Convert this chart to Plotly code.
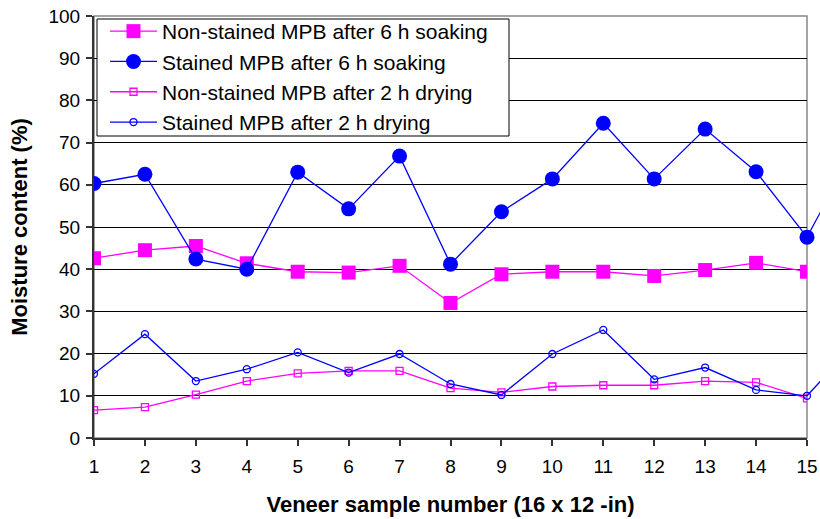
import plotly.graph_objects as go

samples = list(range(1, 16))
samples_ext = list(range(1, 17))

nonstained_soak = [42.6, 44.5, 45.5, 41.4, 39.4, 39.2, 40.8, 32.0, 38.8, 39.4, 39.4, 38.4, 39.8, 41.5, 39.4]
stained_soak = [60.3, 62.5, 42.4, 40.0, 63.0, 54.3, 66.8, 41.2, 53.6, 61.4, 74.6, 61.4, 73.2, 63.1, 47.6, 70.0]
nonstained_dry = [6.6, 7.3, 10.3, 13.5, 15.3, 15.9, 15.9, 11.8, 10.8, 12.2, 12.5, 12.5, 13.5, 13.2, 9.4]
stained_dry = [15.2, 24.6, 13.5, 16.3, 20.3, 15.5, 19.9, 12.8, 10.2, 19.9, 25.6, 13.9, 16.7, 11.4, 10.0, 23.0]

names = [
    "Non-stained MPB after 6 h soaking",
    "Stained MPB after 6 h soaking",
    "Non-stained MPB after 2 h drying",
    "Stained MPB after 2 h drying",
]

MAGENTA = "#FF00FF"
BLUE = "#0000FF"
FONT = "Liberation Sans, Arial, sans-serif"

W, H = 820, 519
ML, MR, MT, MB = 94, 0, 16, 81
plot_w = W - ML - MR
plot_h = H - MT - MB
main_frac = 713 / plot_w


def px(x):  # window pixel -> paper x
    return (x - ML) / plot_w


def py(y):  # window pixel -> paper y
    return 1 - (y - MT) / plot_h


fig = go.Figure()
fig.add_trace(go.Scatter(
    x=samples, y=nonstained_soak, name=names[0], mode="lines+markers",
    line=dict(color=MAGENTA, width=1.3),
    marker=dict(symbol="square", size=14, color=MAGENTA),
    legendgroup="a", xaxis="x", yaxis="y"))
fig.add_trace(go.Scatter(
    x=samples_ext, y=stained_soak, name=names[1], mode="lines+markers",
    line=dict(color=BLUE, width=1.3),
    marker=dict(symbol="circle", size=15, color=BLUE),
    legendgroup="b", xaxis="x2", yaxis="y2"))
fig.add_trace(go.Scatter(
    x=samples, y=nonstained_dry, name=names[2], mode="lines+markers",
    line=dict(color=MAGENTA, width=1.3),
    marker=dict(symbol="square-open", size=7, color=MAGENTA, line=dict(width=1.3)),
    legendgroup="c", xaxis="x", yaxis="y"))
fig.add_trace(go.Scatter(
    x=samples_ext, y=stained_dry, name=names[3], mode="lines+markers",
    line=dict(color=BLUE, width=1.3),
    marker=dict(symbol="circle-open", size=7, color=BLUE, line=dict(width=1.3)),
    legendgroup="d", xaxis="x2", yaxis="y2"))

fig.update_layout(
    width=W, height=H,
    margin=dict(l=ML, r=MR, t=MT, b=MB, autoexpand=False),
    paper_bgcolor="white", plot_bgcolor="rgba(0,0,0,0)",
    font=dict(family=FONT, color="black", size=19),
    showlegend=True,
    legend=dict(
        x=px(105), y=py(11), xanchor="left", yanchor="top",
        bgcolor="rgba(0,0,0,0)", borderwidth=0,
        font=dict(size=21, family=FONT), tracegroupgap=0,
        itemwidth=47, traceorder="grouped",
    ),
    xaxis=dict(
        domain=[0, main_frac], range=[1, 15], tickmode="array",
        tickvals=samples, ticktext=[str(s) for s in samples],
        showgrid=False, zeroline=False,
        showline=True, linecolor="#333333", linewidth=2,
        ticks="outside", ticklen=6, tickcolor="#333333", tickwidth=1.5,
        ticklabelstandoff=4, ticklabeloverflow="allow",
        tickfont=dict(size=19, family=FONT),
        title=dict(text="<b>Veneer sample number (16 x 12 -in)</b>",
                   font=dict(size=22, family=FONT), standoff=21),
        anchor="y", automargin=False,
    ),
    yaxis=dict(
        range=[0, 100], dtick=10, tick0=0,
        showgrid=True, gridcolor="black", gridwidth=1,
        zeroline=False,
        showline=True, linecolor="#333333", linewidth=2,
        ticks="outside", ticklen=6, tickcolor="#333333", tickwidth=1.5,
        ticklabelstandoff=2, ticklabeloverflow="allow",
        tickfont=dict(size=19, family=FONT),
        title=dict(text="<b>Moisture content (%)</b>",
                   font=dict(size=22, family=FONT), standoff=15),
        anchor="x", automargin=False,
    ),
    xaxis2=dict(
        domain=[0, 1], range=[1, 1 + 14 / main_frac], visible=False,
        anchor="y2", fixedrange=True,
    ),
    yaxis2=dict(
        domain=[0, 1], range=[0, 100], visible=False, anchor="x2",
        fixedrange=True,
    ),
    shapes=[
        # grey plot-area frame (top and right)
        dict(type="rect", xref="x domain", yref="y domain",
             x0=0, x1=1, y0=0, y1=1, layer="below",
             line=dict(color="#888888", width=1.5)),
        # legend frame
        dict(type="rect", xref="paper", yref="paper",
             x0=px(97), x1=px(509), y0=py(136), y1=py(19), layer="above",
             fillcolor="white", line=dict(color="black", width=1)),
    ],
)

fig.write_html(
    "out.html",
    config={"displayModeBar": False},
    post_script="document.body.style.margin='0';document.body.style.overflow='hidden';",
)
